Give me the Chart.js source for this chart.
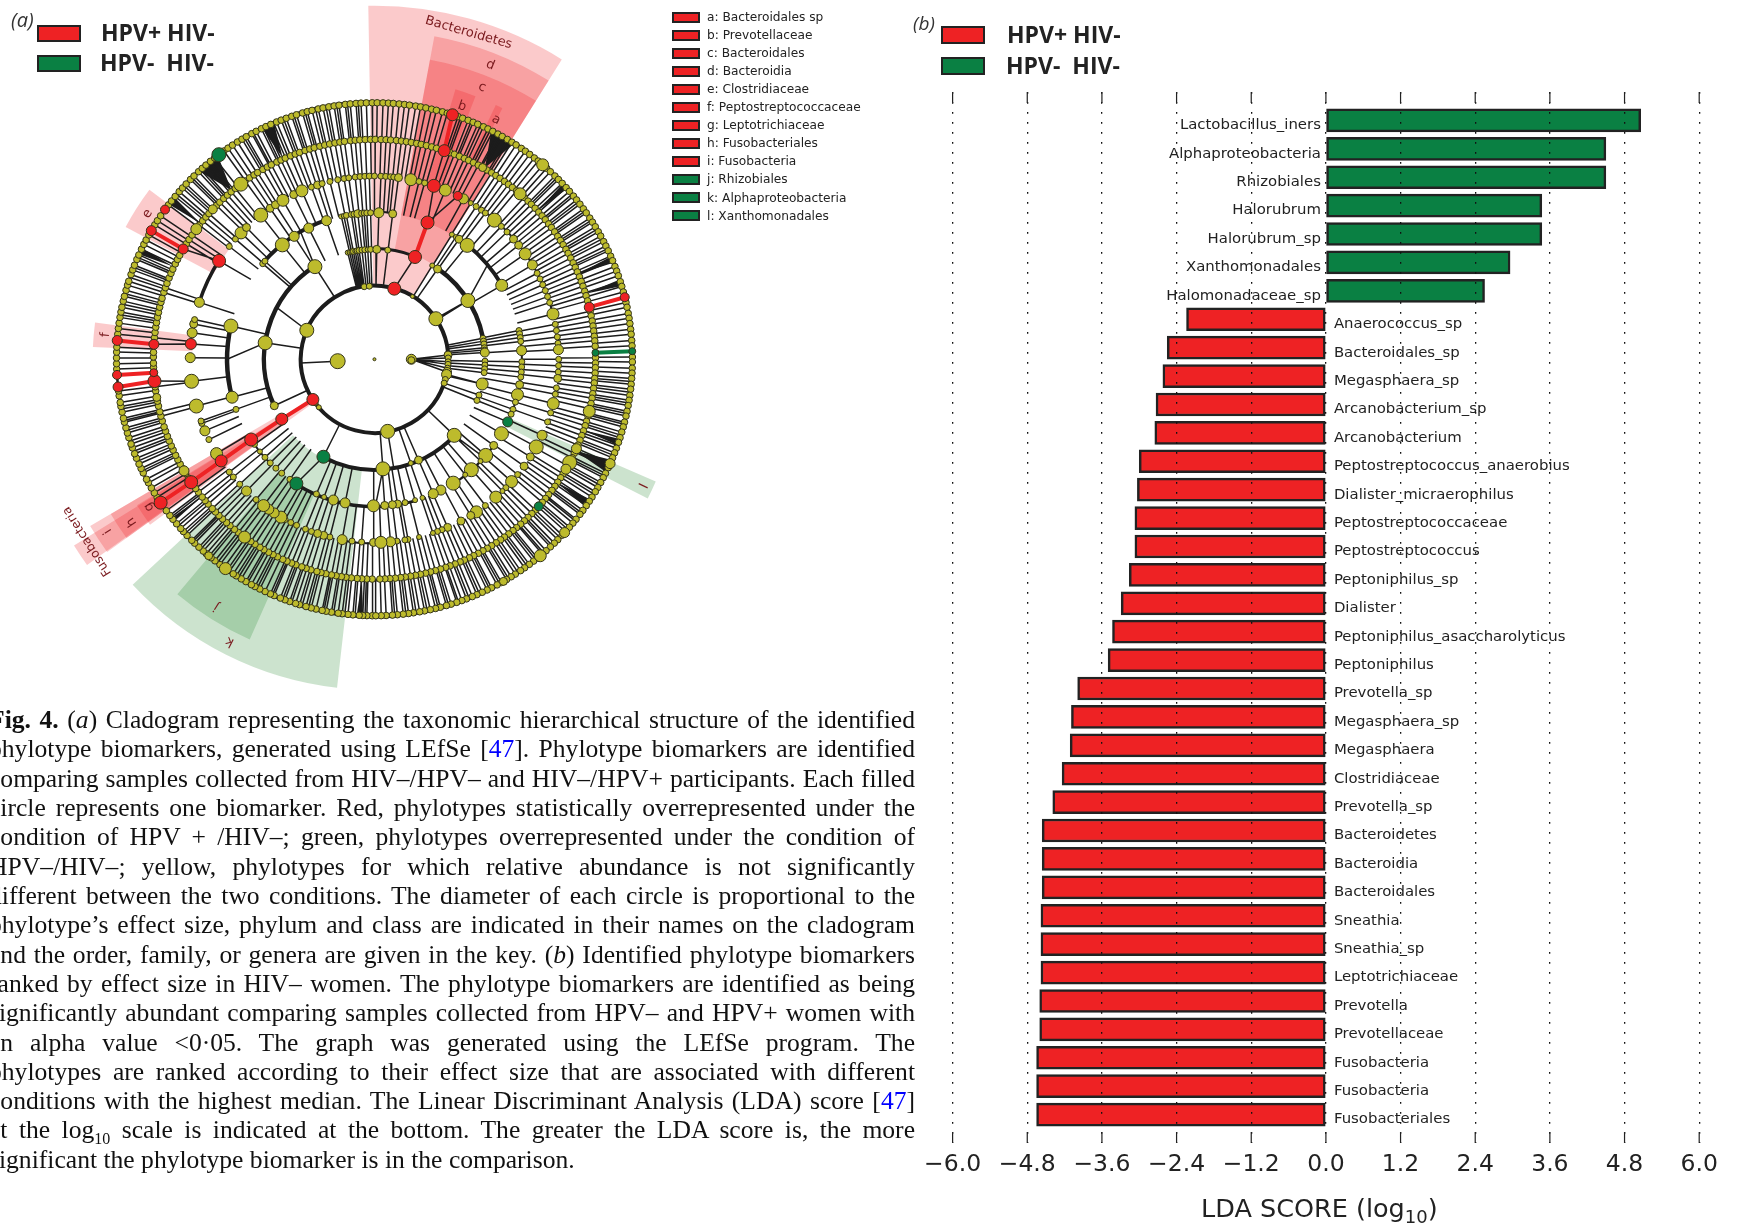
<!DOCTYPE html>
<html>
<head>
<meta charset="utf-8">
<script src="https://cdn.jsdelivr.net/npm/chart.js@4"></script>
<style>
html,body{margin:0;padding:0;background:#fff;width:1737px;height:1227px;overflow:hidden}
canvas{position:absolute}
.abs{position:absolute;white-space:nowrap}
.box{position:absolute;border:2px solid #222;box-sizing:border-box}
.legtxt{font:700 23px "Open Sans";color:#222}
.keytxt{font:12.2px "DejaVu Sans";color:#222}
.cap{position:absolute;left:-11px;width:926px;height:30px;overflow:hidden;font:25.6px/30px "Liberation Serif";color:#111;text-align:justify;text-align-last:justify}
.cap a{color:#00f}
</style>
</head>
<body>
<canvas id="clado" width="900" height="700" style="left:0;top:0"></canvas>
<canvas id="bars" width="837" height="1227" style="left:900px;top:0"></canvas>
<div id="overlay"></div>
<script>
// ---------- panel (b) data ----------
let biomarkers = ["Lactobacillus_iners","Alphaproteobacteria","Rhizobiales","Halorubrum","Halorubrum_sp","Xanthomonadales","Halomonadaceae_sp",
  "Anaerococcus_sp","Bacteroidales_sp","Megasphaera_sp","Arcanobacterium_sp","Arcanobacterium","Peptostreptococcus_anaerobius","Dialister_micraerophilus",
  "Peptostreptococcaceae","Peptostreptococcus","Peptoniphilus_sp","Dialister","Peptoniphilus_asaccharolyticus","Peptoniphilus","Prevotella_sp","Megasphaera_sp",
  "Megasphaera","Clostridiaceae","Prevotella_sp","Bacteroidetes","Bacteroidia","Bacteroidales","Sneathia","Sneathia_sp","Leptotrichiaceae","Prevotella",
  "Prevotellaceae","Fusobacteria","Fusobacteria","Fusobacteriales"]
let ldaScores = [5.06,4.5,4.5,3.47,3.47,2.96,2.55,
  -2.24,-2.55,-2.62,-2.73,-2.75,-3.0,-3.03,-3.07,-3.07,-3.16,-3.29,-3.43,-3.5,-3.99,-4.09,-4.11,-4.24,-4.39,-4.56,-4.56,-4.56,-4.58,-4.58,-4.58,-4.6,-4.6,-4.65,-4.65,-4.65]
let xTicks = [-6,-4.8,-3.6,-2.4,-1.2,0,1.2,2.4,3.6,4.8,6]

// ---------- panel (a) data: [angle clockwise from north, dot size], one list per ring ----------
let ringRoot = [[-93,7.5],[90,5],[91.5,3.5]]
let ring74 = [[-131,2.5],[-127,2.5],[-66.7,7],[-8,3],[-4,3],[31,2],[56.4,7],[86.7,4],[89,3],[92,3],[94,3],[97,3],[100,4.5],[102,5],[106,3],[109,3],[169.7,7]]
let ring111 = [[-115,4],[-81.4,7],[-32.6,7],[-14,2.5],[-13,2.5],[-12,2.5],[-11,3],[-10,2.5],[-9,3],[-8,3],[-6.5,3],[-5,3],[-3.5,2.5],[-2,3],[1.2,4],[6.9,3],[31.5,2.5],[34.8,4],[57.7,7],
  [79,3],[80.5,3],[82,3],[84,3],[85.2,3],[86.5,4.5],[91,3],[93,3],[95,3],[97,3],[103,6],[109,3],[112,3],[133.8,7],[156.5,4],[160.8,2.5],[175.6,7]]
let ring148 = [[-179.6,6],[-168.5,5],[-163.8,5],[-160,2.5],[-156.8,3],[-145,3],[-141,3],[-138,3],[-135,3],[-132,3],[-129,2.5],[-125.5,3],[-110,3],[-105,6],[-76.9,7],[-49.3,3],[-48,3],[-38.7,7],[-33,5],[-26.5,5],[-19,5],
  [-13,2.5],[-12,2.5],[-11,3],[-9,3],[-8,3],[-6.5,4],[-5,3],[-4,3],[-3,3],[-1.5,3],[1.7,5],[7.1,4],[31.7,2.5],[33.5,2.5],[35,4],[39,7],[59.7,6],
  [78.7,3],[80,3],[81.5,3],[83,3],[86.6,5],[91,3],[93,3],[95,3],[97,3],[100,4],[104,6],[107,3],[110,3],[112,3],[120.5,7],[126,4],[131,7],[134,2.5],[138.9,7],[142,2.5],[147.7,7],[153.2,5],[156.5,5],[161,2.5],[164,2.5],[168,3],[171,4],[173,4],[176,4]]
let ring185 = [[-179.7,4],[-176,3],[-173,3],[-169.9,5],[-166,3],[-164,4],[-162,4],[-160,3],[-158,3],[-155,3],[-153,3],[-151,3],[-149.5,6],[-147,5],[-145,5],[-143,6],[-140,3],[-136,5],[-133,3],[-130,3],[-128,3],[-121,6],[-116,3],[-113,5],[-110.5,3],[-109.7,3],[-104.8,7],[-96.9,7],[-89.5,5],[-81.7,5],[-78.9,4],[-77.5,3],[-71.9,5],
  [-52,3],[-49,3],[-46.4,6],[-44,4],[-38.1,7],[-34.5,4],[-32.5,4],[-29.8,6],[-26,4],[-23.2,6],[-20,3],[-18,4],[-16.5,3],[-14,3],[-11.5,3],[-9.5,3],[-8,3],[-6,3],[-4.5,3],[-3,3],[-1.6,3],[0,3],[2,3],[3.5,3],[5,3],[6,3],[7.5,4],[11.4,6],[14,3],[15.8,3],[22.6,6],[28.9,5],
  [31.5,2.5],[33.5,3],[35.5,3],[37,3],[40.6,7],[43.5,3],[46,3],[49,4],[51.5,4],[54.9,6],[59,5],[62,3],[64,3],[66,3],[68,3],[70,3],[72,3],[75.7,6],[79,3],[81,3],[83,3],[85,3],[87,5],[90,3],[92,3],[94,3],[96,4],[99,3],[101,3],[104,6],[107,3],[110,3],[114.5,5],[118.6,7],
  [122.2,4],[125.7,4],[129,3],[131.9,6],[134.5,3],[136,2.5],[138.8,6],[143,3],[146.4,6],[148.5,4],[152,4],[156.6,4],[158.5,3],[160,3],[161.5,2.5],[166,2.5],[169.5,3],[170.5,3],[173,3],[175,5],[178,6]]
let ring222Big = [[-144,6],[-120.5,5],[-100,4],[-53.7,5.5],[-47,4.5],[-37.2,7],[29.3,4],[41.2,6],[103.7,6],[114,5],[118,7],[120,5]]
let ring259Big = [[-144.7,6],[-140,4],[40.7,6],[114,5],[132.5,5],[140,6],[150,4]]

// leaves and their parents: only the angle, the dots there are all small
let ring222 = [-179.4,-178,-176.7,-175.5,-174,-172.6,-171.4,-170,-168.8,-167.3,-166,-164.9,-163.3,-162,-160.8,-159.2,-158,-156.7,-155.5,-154,-152.7,-151.4,-150,-148.8,-147.3,-146,-144.8,-143.2,-142,-140.7,-139.2,-138,-136.6,-135.3,-134,-132.8,-131.2,-130,-128.8,-127.2,-126,-122.7,-121.3,-119.8,-118.5,-117.2,-115.9,-114.4,-113.2,-111.8,-110.5,-109.1,-107.9,-106.3,-105,-103.8,-102.3,-101,-99.9,-98.3,-97.2,-92.1,-91,-89.4,-88.2,-84.4,-83,-81.6,-80.4,-79,-77.7,-76.3,-75,-73.9,-72.3,-71,-69.8,-68.3,-67,-65.8,-64.3,-63,-61.8,-58.3,-57,-55.6,-52.4,-51,-49.7,-48.5,-45.6,-44.4,-43,-41.7,-40.4,-39,-35.8,-34.4,-33,-31.9,-30.3,-29,-27.8,-26.2,-25,-23.8,-22.3,-21,-19.8,-18.3,-17,-15.8,-14.3,-13,-11.7,-10.3,-9,-7.8,-6.2,-5,-3.8,-2.4,-1,0.2,1.7,3,4.2,5.7,7,8.3,9.6,11,12.2,13.6,15,16.3,20,21.2,22.6,24,25.2,26.6,28,30.6,32,33.3,34.6,36,37.3,38.6,40,42.6,44,45.2,46.6,48,49.3,50.6,52,53.2,54.6,56,57.3,58.6,60,61.2,62.6,64,65.3,66.6,68,69.3,70.6,72,73.2,74.6,77.4,78.6,80,81.3,82.6,84,85.2,86.6,89.6,91,92.2,93.6,95,96.2,97.6,99,100.2,101.6,103,105,106.4,107.6,109,110.3,111.6,113,115.3,116.6,119,121.4,122.6,124,125.3,126.6,128,129.3,130.6,133.3,134.6,136,137.3,138.6,140,141.2,142.6,144,145.2,146.6,148,149.3,150.6,152,153.3,154.6,156,157.2,158.6,160,161.2,162.6,164,165.3,166.6,168,169.3,170.6,172,173.2,174.6,176,177.3,178.6]
let ring259 = [-179.5,-178.3,-177.4,-176.6,-175.2,-174.1,-172.8,-171.9,-170.4,-169.2,-168.3,-166.9,-165.8,-164.6,-163.1,-162.2,-160.8,-159.7,-158.6,-157.1,-156.2,-154.9,-153.6,-152.4,-151.5,-150.1,-148.9,-147.6,-146.8,-145.2,-144.3,-143.2,-141.8,-140.7,-139.3,-138.4,-137.1,-135.8,-134.9,-133.4,-132.2,-131.3,-129.9,-128.6,-127.5,-126.2,-122.6,-121.4,-120.1,-118.8,-117.9,-116.3,-115.2,-114.1,-112.7,-111.6,-110.2,-109.3,-107.8,-106.7,-105.5,-104.2,-103.3,-101.9,-100.6,-99.7,-98.2,-97.1,-92.2,-91,-89.7,-88.4,-87.3,-84.4,-83.1,-81.9,-80.6,-79.4,-78.3,-76.9,-75.8,-74.4,-73.2,-72.3,-70.7,-69.6,-68.5,-67.1,-66,-64.6,-63.4,-62.3,-61,-58.4,-57.3,-56,-53,-51.9,-50.6,-49.2,-48.1,-46.9,-45.5,-44.4,-43,-41.9,-40.8,-39.5,-38.3,-35.7,-34.6,-33.4,-32.1,-30.9,-29.8,-28.4,-27.3,-26,-24.9,-23.7,-22.3,-21.2,-20,-18.7,-17.6,-16.2,-15.1,-14,-12.6,-11.5,-10.2,-9,-7.9,-6.5,-5.4,-4.1,-3,-1.8,-0.5,0.6,1.9,3.1,4.2,5.5,6.7,7.8,9.2,10.3,11.5,12.8,13.9,15.3,16.4,18.9,20,21.3,22.5,23.6,25,26.1,27.3,28.6,29.7,31,32.2,33.3,34.7,35.8,37,38.3,39.4,40.8,41.9,43,44.4,45.5,46.7,48,49.1,50.5,51.6,52.8,54.1,55.2,56.6,57.7,58.9,60.2,61.3,62.7,63.8,65,66.3,67.4,68.8,69.9,71,72.4,73.5,74.8,77.2,78.3,79.7,80.8,82,83.3,84.4,85.8,87,89.5,90.6,92,93.1,94.3,95.6,96.7,98.1,99.2,100.4,101.7,102.8,104.2,105.3,106.5,107.8,108.9,110.3,111.4,112.6,113.9,115,116.4,117.5,118.7,120,121.1,122.5,123.6,124.8,126.1,127.2,128.6,129.7,130.9,132.2,133.3,134.7,135.8,137,138.3,139.4,140.8,141.9,143.1,144.4,145.5,146.9,148,149.2,150.5,151.6,153,154.1,155.3,156.6,157.7,159.1,160.2,161.4,162.7,163.8,165.2,166.3,167.5,168.8,169.9,171.3,172.4,173.6,174.9,176,177.4,178.5,179.7]
// extra species where the outer band reads darker
let ring259Extra = [-177.9,-175.7,-173.4,-170.9,-168.7,-165.2,-163.7,-161.3,-159.2,-156.7,-153,-150.6,-148.2,-145.8,-142.5,-140.1,-137.7,-135.3,-132.8,-130.5,-128,-115.8,-113.4,-111,-108.6,-106.1,-103.8,-101.2,-80,-77.6,-75.2,-71.4,-69,-66.6,-50,-47.5,-45,-42.4,-40.2,-30.3,-28,-25.5,-23,-20.6,-18.2,-15.6,-13.2,-10.8,-8.4,-6,-3.6,19.5,22,24.3,26.7,29,31.5,45,47.4,50,52.2,54.7,57.2,59.6,62,64.5,67,95,97.4,99.8,102.2,104.7,107.2,109.6,112,114.5,117,119.3,121.7,124.2,126.7,129,131.5,134,136.5,139,141.3,143.7,146.2,148.7,151,153.5,156,158.5,161,163.3,165.7,168.2,170.7,173,175.5]
// band between ring 185 and 222 has no stems in these angle ranges
let stemGaps222 = [[-124,-106],[-103,-98],[-94,-87],[-84,-73],[-71,-61]]

// biomarkers: [radius, angle, size]
let redNodes = [[74,15.6,6.5],[111,21.5,6.5],[148,21.1,6.5],[185,18.8,6.5],[185,26.9,4.5],[222,18.4,6],[259,17.6,6],
  [185,-57.5,6.5],[222,-59.9,5],[259,-59.9,5],[259,-54.3,4.5],[185,-85.2,5.5],[222,-86.1,5],[259,-85.8,5],[222,-95.7,6.5],[259,-96.2,5],[259,-93.5,4.5],[222,-93.5,4],
  [74,-123.3,6],[111,-123,6],[148,-123.2,6.5],[185,-123.7,6],[222,-124,6.5],[259,-124,6.5],[222,76.3,5],[259,76,4.5]]
let greenNodes = [[259,-37.1,7],[148,115.3,5],[222,132,4.5],[111,-152.5,6.5],[148,-148,6.5],[222,88.3,3.5],[259,88.2,3.5]]
// links drawn thick in the marker colour: [r1, angle1, r2, angle2]
let redLinks = [[111,21.5,148,21.1],[222,-59.9,259,-59.9],[222,-86.1,259,-85.8],[222,-95.7,259,-96.2],[222,-93.5,259,-93.5],[74,-123.3,111,-123],[111,-123,148,-123.2],[148,-123.2,185,-123.7],[185,-123.7,222,-124],[222,-124,259,-124],[222,76.3,259,76],[222,18.4,259,17.6]]
let greenLinks = [[222,88.3,259,88.2]]
let blackLinks = [[74,15.6,111,21.5],[148,21.1,185,18.8],[185,18.8,222,18.4],[148,21.1,185,26.9],[185,-57.5,222,-59.9],[185,-85.2,222,-86.1],[185,-96.9,222,-95.7],[185,-123.7,222,-124],[74,-152,111,-152.5],[111,-152.5,148,-148],[148,115.3,111,116],[185,-57.5,148,-57],[185,-85.2,148,-85],[37,-93,74,-93],[37,90,74,86.7],[37,90,74,89],[37,90,74,92],[37,90,74,94],[37,90,74,97],[37,90,74,100],[74,-66.7,111,-62],[74,56.4,111,57.7],[74,169.7,111,170],[111,-32.6,148,-30],[111,-81.4,148,-90],[111,57.7,148,50],[111,133.8,148,132],[111,175.6,148,179.6],[74,102,111,103],[74,109,111,109]]

// thick branch arcs: [radius, from, to, width]
let arcs = [[74,-123,100,4],[74,105,233,4],[111,-115,-32.6,4.5],[111,-14,21.5,3],[111,35,85,4.5],[111,133.8,207.5,4],
  [148,-105,-77,4.5],[148,-49,-19,4],[148,39,60,4],[148,180,212,3.5],[148,164,180,3],[148,126,150,2.5],[148,-135,-123,2],[148,-13,7,2],[148,80,112,2],
  [185,-72,-57.5,3.5],[185,37,76,2],[185,-180,-170,2],[222,-180,180,2.5],[259,-180,180,2.5]]
// black wedges where stems merge, apex on the inner ring: [r1, r2, from, to]
let darkBands = [[222,259,-26,-23],[222,259,-43,-37.5],[222,259,-53,-51],[222,259,-66,-64.5],[222,259,27,33],[222,259,47,48.5],[222,259,66.5,68],[222,259,72,73.5],[222,259,108,109.5],[222,259,113,116],[222,259,123,125],[222,259,-177.5,-176],[222,259,-129,-128]]
// shaded clades: [r1, r2, from, to, colour]
let cladeRed = "rgba(238,34,36,0.24)"
let cladeGreen = "rgba(40,140,50,0.24)"
let clades = [[76,355,-1,32,cladeRed],[112,330,10.5,32,cladeRed],[147,306,10.5,32,cladeRed],[182,283,16.7,21,cladeRed],[222,283,25.5,27,cladeRed],
  [183,283,-62,-53,cladeRed],[183,283,-87.5,-82.5,cladeRed],
  [76,355,-125.6,-121.8,cladeRed],[110,331,-125.8,-120.4,cladeRed],[147,307,-125.8,-120.4,cladeRed],[183,280,-126.4,-121.6,cladeRed],
  [112,332,-173.5,-133,cladeGreen],[147,308,-156,-140,cladeGreen],[147,308,113.5,117,cladeGreen]]
// clade names: [text, radius, angle, font size]
let cladeNames = [["Bacteroidetes",343,16,13],["d",319,21.4,13],["c",295,21.5,13],["b",270,19,13],["a",271,26.8,13],["e",271,-57.2,13],["f",271,-84.8,13],["g",271,-123.4,13],["h",294,-124,13],["i",319,-123,13],["Fusobacteria",342,-122.5,12.5],["k",320,-153,13],["j",296,-147.6,13],["l",297,115.3,13]]
let keyLabels = ["a: Bacteroidales sp","b: Prevotellaceae","c: Bacteroidales","d: Bacteroidia","e: Clostridiaceae","f: Peptostreptococcaceae","g: Leptotrichiaceae","h: Fusobacteriales","i: Fusobacteria","j: Rhizobiales","k: Alphaproteobacteria","l: Xanthomonadales"]
let keyColors = ["r","r","r","r","r","r","r","r","r","g","g","g"]

let captionLines = [
 '<b>Fig. 4.</b> (<i>a</i>) Cladogram representing the taxonomic hierarchical structure of the identified',
 'phylotype biomarkers, generated using LEfSe [<a>47</a>]. Phylotype biomarkers are identified',
 'comparing samples collected from HIV–/HPV– and HIV–/HPV+ participants. Each filled',
 'circle represents one biomarker. Red, phylotypes statistically overrepresented under the',
 'condition of HPV + /HIV–; green, phylotypes overrepresented under the condition of',
 'HPV–/HIV–; yellow, phylotypes for which relative abundance is not significantly',
 'different between the two conditions. The diameter of each circle is proportional to the',
 'phylotype’s effect size, phylum and class are indicated in their names on the cladogram',
 'and the order, family, or genera are given in the key. (<i>b</i>) Identified phylotype biomarkers',
 'ranked by effect size in HIV– women. The phylotype biomarkers are identified as being',
 'significantly abundant comparing samples collected from HPV– and HPV+ women with',
 'an alpha value &lt;0·05. The graph was generated using the LEfSe program. The',
 'phylotypes are ranked according to their effect size that are associated with different',
 'conditions with the highest median. The Linear Discriminant Analysis (LDA) score [<a>47</a>]',
 'at the log<sub style="font-size:16px;line-height:0">10</sub> scale is indicated at the bottom. The greater the LDA score is, the more',
 'significant the phylotype biomarker is in the comparison.']

const RED = "#EE2224", GREEN = "#0A8043", YELLOW = "#BDBB2C", INK = "#222"

// ---------- html bits ----------
let overlay = document.getElementById("overlay")
function addHtml(css, cls, html) {
    let d = document.createElement("div")
    d.className = cls
    d.style.cssText = css
    d.innerHTML = html
    overlay.appendChild(d)
}
addHtml("left:11px;top:6px;font:italic 20px 'Open Sans';color:#333", "abs", "(a)")
addHtml("left:913px;top:10px;font:italic 19px 'Open Sans';color:#333", "abs", "(b)")
addHtml(`left:37px;top:25px;width:44px;height:17px;background:${RED}`, "box", "")
addHtml(`left:37px;top:55px;width:44px;height:17px;background:${GREEN}`, "box", "")
addHtml("left:101px;top:16px", "abs legtxt", "HPV+ HIV-")
addHtml("left:100px;top:46px", "abs legtxt", "HPV-&nbsp; HIV-")
addHtml(`left:941px;top:26px;width:44px;height:18px;background:${RED}`, "box", "")
addHtml(`left:941px;top:57px;width:44px;height:18px;background:${GREEN}`, "box", "")
addHtml("left:1007px;top:18px", "abs legtxt", "HPV+ HIV-")
addHtml("left:1006px;top:49px", "abs legtxt", "HPV-&nbsp; HIV-")
keyLabels.forEach((t, i) => {
    addHtml(`left:672px;top:${11.7 + i * 18.05}px;width:28px;height:11px;background:${keyColors[i] == "r" ? RED : GREEN}`, "box", "")
    addHtml(`left:707px;top:${10 + i * 18.05}px`, "abs keytxt", t)
})
captionLines.forEach((t, i) => {
    let last = i == captionLines.length - 1 ? "text-align-last:left;" : ""
    addHtml(`top:${705 + i * 29.32}px;${last}`, "cap", t)
})
addHtml("left:1201px;top:1193px;font:25.5px 'DejaVu Sans';color:#222", "abs", 'LDA SCORE (log<sub style="font-size:18px;line-height:0">10</sub>)')

// ---------- panel (a) chart ----------
function polar(r, deg) {
    let a = deg * Math.PI / 180
    return {x: r * Math.sin(a), y: r * Math.cos(a)}
}
function segs(list) {
    let out = []
    list.forEach(l => { out.push(polar(l[0], l[1]), polar(l[2], l[3]), {x: NaN, y: NaN}) })
    return out
}
let stemList = []
ring111.forEach(n => stemList.push([111, n[0], 74, n[0]]))
ring148.forEach(n => stemList.push([148, n[0], 111, n[0]]))
ring185.forEach(n => stemList.push([185, n[0], 148, n[0]]))
ring222.forEach(t => { if (!stemGaps222.some(g => t > g[0] && t < g[1])) stemList.push([222, t, 185, t]) })
ring259.forEach(t => stemList.push([259, t, 222, t]))
ring259Extra.forEach(t => stemList.push([259, t, 222, t]))
stemList = stemList.concat(blackLinks)

let yellowNodes = []
ringRoot.forEach(n => yellowNodes.push([37, n[0], n[1]]))
ring74.forEach(n => yellowNodes.push([74, n[0], n[1]]))
ring111.forEach(n => yellowNodes.push([111, n[0], n[1]]))
ring148.forEach(n => yellowNodes.push([148, n[0], n[1]]))
ring185.forEach(n => yellowNodes.push([185, n[0], n[1]]))
ring222.forEach(t => yellowNodes.push([222, t, 3.3]))
ring259.forEach(t => yellowNodes.push([259, t, 3.3]))
ring222Big.forEach(n => yellowNodes.push([222, n[0], n[1]]))
ring259Big.forEach(n => yellowNodes.push([259, n[0], n[1]]))
yellowNodes.push([0, 0, 1.5])

function nodeSet(list, color, order) {
    return {
        type: "scatter",
        order: order,
        data: list.map(n => polar(n[0], n[1])),
        pointRadius: list.map(n => n[2]),
        backgroundColor: color,
        borderColor: "#33331a",
        borderWidth: 1,
        showLine: false,
        clip: false
    }
}
function linkSet(list, color, width, order) {
    return {
        type: "scatter",
        order: order,
        data: segs(list),
        showLine: true,
        spanGaps: false,
        borderColor: color,
        borderWidth: width,
        pointRadius: 0,
        clip: false
    }
}
let sectorPlugin = {
    id: "sectors",
    beforeDatasetsDraw(chart) {
        let c = chart.ctx, sx = chart.scales.x, sy = chart.scales.y
        let cx = sx.getPixelForValue(0), cy = sy.getPixelForValue(0)
        let rad = r => sx.getPixelForValue(r) - cx
        let ang = d => (d - 90) * Math.PI / 180
        function sector(r1, r2, a, b, fill) {
            c.beginPath()
            c.arc(cx, cy, rad(r2), ang(a), ang(b))
            c.arc(cx, cy, rad(r1), ang(b), ang(a), true)
            c.closePath()
            c.fillStyle = fill
            c.fill()
        }
        c.save()
        clades.forEach(w => sector(w[0], w[1], w[2], w[3], w[4]))
        c.fillStyle = "#1c1c1c"
        darkBands.forEach(w => {
            let mid = ang((w[2] + w[3]) / 2)
            c.beginPath()
            c.moveTo(cx + rad(w[0]) * Math.cos(mid), cy + rad(w[0]) * Math.sin(mid))
            c.lineTo(cx + rad(w[1]) * Math.cos(ang(w[2])), cy + rad(w[1]) * Math.sin(ang(w[2])))
            c.lineTo(cx + rad(w[1]) * Math.cos(ang(w[3])), cy + rad(w[1]) * Math.sin(ang(w[3])))
            c.closePath()
            c.fill()
        })
        c.strokeStyle = "#1c1c1c"
        arcs.forEach(a => {
            c.beginPath()
            c.lineWidth = a[3]
            c.arc(cx, cy, rad(a[0]), ang(a[1]), ang(a[2]))
            c.stroke()
        })
        c.fillStyle = "#7a1a1e"
        c.textAlign = "center"
        c.textBaseline = "middle"
        cladeNames.forEach(n => {
            let p = polar(n[1], n[2])
            c.save()
            c.translate(sx.getPixelForValue(p.x), sy.getPixelForValue(p.y))
            c.rotate(n[2] * Math.PI / 180)
            c.font = n[3] + "px 'DejaVu Sans'"
            c.fillText(n[0], 0, 0)
            c.restore()
        })
        c.restore()
    }
}
new Chart(document.getElementById("clado").getContext("2d"), {
    data: {datasets: [
        linkSet(stemList, "#1c1c1c", 1.5, 5),
        linkSet(redLinks, RED, 4, 4),
        linkSet(greenLinks, GREEN, 4, 4),
        nodeSet(yellowNodes, YELLOW, 3),
        nodeSet(redNodes, RED, 2),
        nodeSet(greenNodes, GREEN, 1)
    ]},
    options: {
        responsive: false,
        animation: false,
        devicePixelRatio: 1,
        events: [],
        layout: {padding: 0},
        plugins: {legend: {display: false}, tooltip: {enabled: false}},
        scales: {
            x: {type: "linear", display: false, min: -367.5, max: 519.2},
            y: {type: "linear", display: false, min: -335.5, max: 354.2}
        }
    },
    plugins: [sectorPlugin]
})

// ---------- panel (b) chart ----------
let barLabels = [""].concat(biomarkers, [""])
let barValues = [null].concat(ldaScores, [null])
let barPlugin = {
    id: "barText",
    afterDraw(chart) {
        let c = chart.ctx, sx = chart.scales.x, sy = chart.scales.y
        c.save()
        // short solid ticks, inside the plot, top and bottom
        c.strokeStyle = INK
        c.lineWidth = 1.2
        xTicks.forEach(v => {
            let x = sx.getPixelForValue(v)
            c.beginPath()
            c.moveTo(x, sy.top); c.lineTo(x, sy.top + 11)
            c.moveTo(x, sy.bottom - 11); c.lineTo(x, sy.bottom)
            c.stroke()
        })
        c.font = "14.9px 'DejaVu Sans'"
        c.fillStyle = INK
        c.textBaseline = "middle"
        biomarkers.forEach((name, i) => {
            let right = ldaScores[i] > 0
            c.textAlign = right ? "right" : "left"
            c.fillText(name, sx.getPixelForValue(0) + (right ? -5 : 8), sy.getPixelForValue(i + 1) + 5)
        })
        c.restore()
    }
}
new Chart(document.getElementById("bars").getContext("2d"), {
    type: "bar",
    data: {
        labels: barLabels,
        datasets: [{
            data: barValues,
            backgroundColor: barValues.map(v => v > 0 ? GREEN : RED),
            borderColor: INK,
            borderWidth: 2.5,
            borderSkipped: false,
            barThickness: 23
        }]
    },
    options: {
        indexAxis: "y",
        responsive: false,
        animation: false,
        devicePixelRatio: 1,
        events: [],
        layout: {padding: {left: 52.6, right: 37.8, top: 92, bottom: 54}},
        plugins: {legend: {display: false}, tooltip: {enabled: false}},
        scales: {
            x: {
                type: "linear",
                min: -6,
                max: 6,
                afterBuildTicks: s => { s.ticks = xTicks.map(v => ({value: v})) },
                afterFit: s => { s.height = 30 },
                grid: {color: "#111", lineWidth: 1.3, z: 1, drawTicks: false},
                border: {display: false, dash: [1.8, 8.2]},
                ticks: {
                    autoSkip: false,
                    maxRotation: 0,
                    padding: 8,
                    color: INK,
                    font: {family: "DejaVu Sans", size: 23.5},
                    callback: v => (v < 0 ? "\u2212" : "") + Math.abs(v).toFixed(1)
                }
            },
            y: {type: "category", offset: false, display: false, grid: {display: false}}
        }
    },
    plugins: [barPlugin]
})
</script>
</body>
</html>
